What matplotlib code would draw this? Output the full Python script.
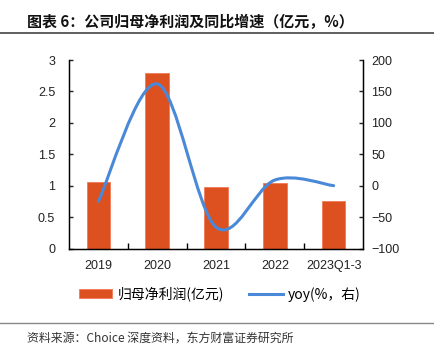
import matplotlib
matplotlib.use("Agg")
import matplotlib.pyplot as plt
from matplotlib.path import Path
from matplotlib.patches import PathPatch, Patch
from matplotlib.lines import Line2D
import numpy as np

plt.rcParams['font.family'] = ['Liberation Sans', 'Noto Sans CJK SC', 'DejaVu Sans']

years = ['2019', '2020', '2021', '2022', '2023Q1-3']
profit = [1.06, 2.79, 0.98, 1.05, 0.76]
yoy = [-25, 162, -66, 9, 0]

bar_color = '#DD5020'
line_color = '#4A88D8'
cjk = ['Noto Sans CJK SC', 'DejaVu Sans']

fig = plt.figure(figsize=(4.35, 3.53), dpi=100)
ax = fig.add_axes([0.1586, 0.296, 0.676, 0.534])
ax2 = ax.twinx()

x = np.arange(len(years))
ax.bar(x, profit, width=0.4, color=bar_color, edgecolor='#F07A55', linewidth=0.6, zorder=2)
ax.set_ylim(0, 3)
ax.set_yticks([0, 0.5, 1, 1.5, 2, 2.5, 3])
ax.set_yticklabels(['0', '0.5', '1', '1.5', '2', '2.5', '3'])
ax.set_xlim(-0.5, len(years) - 0.5)
ax.set_xticks(x)
ax.set_xticklabels(years)
ax.set_xticks(x[:-1] + 0.5, minor=True)
ax.tick_params(axis='x', which='major', length=0, pad=8, labelsize=9, colors='#222222')
ax.tick_params(axis='x', which='minor', length=4, direction='in', width=1)
ax.tick_params(axis='y', length=3, direction='in', width=1, labelsize=9, colors='#222222', pad=10)
for s in ['top']:
    ax.spines[s].set_visible(False)
    ax2.spines[s].set_visible(False)
for s in ['left', 'bottom']:
    ax.spines[s].set_linewidth(1)
ax2.spines['right'].set_linewidth(1)

# smooth curve (Catmull-Rom style bezier through the data points)
pts = list(zip(x.astype(float), yoy))
verts = [pts[0]]
codes = [Path.MOVETO]
n = len(pts)
for i in range(n - 1):
    p0 = pts[i - 1] if i > 0 else pts[i]
    p1 = pts[i]
    p2 = pts[i + 1]
    p3 = pts[i + 2] if i + 2 < n else pts[i + 1]
    c1 = (p1[0] + (p2[0] - p0[0]) / 6, p1[1] + (p2[1] - p0[1]) / 6)
    c2 = (p2[0] - (p3[0] - p1[0]) / 6, p2[1] - (p3[1] - p1[1]) / 6)
    verts += [c1, c2, p2]
    codes += [Path.CURVE4] * 3
ax2.add_patch(PathPatch(Path(verts, codes), fill=False, edgecolor=line_color,
                        linewidth=2.2, capstyle='round', zorder=3))
ax2.set_ylim(-100, 200)
ax2.set_yticks(range(-100, 201, 50))
ax2.tick_params(axis='y', length=3, direction='in', width=1, labelsize=9, colors='#222222', pad=6)

# title
fig.text(0.062, 0.937, '图表 6：公司归母净利润及同比增速（亿元，%）', family=cjk,
         fontsize=10.8, fontweight='bold', va='center', ha='left', color='#111111')
fig.add_artist(Line2D([0, 1], [0.906, 0.906], color='#444444', linewidth=1.2))
fig.add_artist(Line2D([0, 1], [0.085, 0.085], color='#888888', linewidth=1))
fig.text(0.062, 0.043, '资料来源：Choice 深度资料，东方财富证券研究所', family=cjk,
         fontsize=8.6, va='center', ha='left', color='#333333')

handles = [Patch(facecolor=bar_color, edgecolor='#F07A55', linewidth=0.6),
           Line2D([0], [0], color=line_color, linewidth=2.2)]
leg = fig.legend(handles, ['归母净利润(亿元)', 'yoy(%，右)'], loc='center',
                 bbox_to_anchor=(0.506, 0.167), ncol=2, frameon=False,
                 prop={'family': cjk, 'size': 10}, handlelength=2.4,
                 handleheight=0.55, columnspacing=1.8, handletextpad=0.4)

fig.savefig('out.png', dpi=100)
